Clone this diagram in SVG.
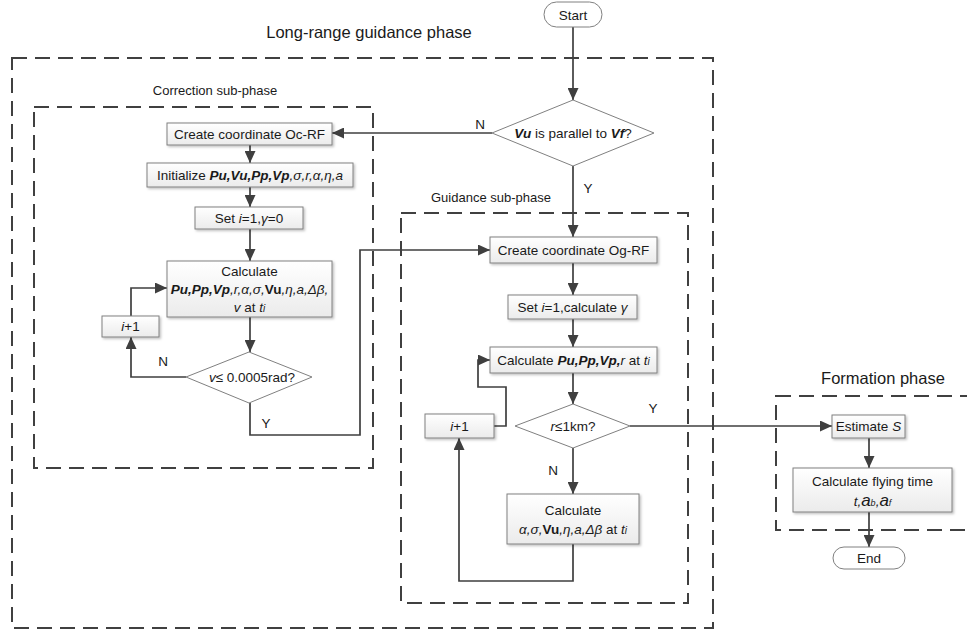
<svg xmlns="http://www.w3.org/2000/svg" width="967" height="633" viewBox="0 0 967 633">
<defs>
<linearGradient id="bg" x1="0" y1="0" x2="0" y2="1"><stop offset="0" stop-color="#ffffff"/><stop offset="1" stop-color="#ebebeb"/></linearGradient>
<filter id="sh" x="-10%" y="-10%" width="130%" height="140%"><feDropShadow dx="1.5" dy="1.5" stdDeviation="0.8" flood-color="#000" flood-opacity="0.25"/></filter>
<marker id="ah" viewBox="0 0 12 11" refX="12" refY="5.5" markerWidth="12" markerHeight="11" markerUnits="userSpaceOnUse" orient="auto"><path d="M0,0 L12,5.5 L0,11 z" fill="#3f3f3f"/></marker>
</defs>
<style>
text{font-family:"Liberation Sans",Arial,sans-serif;fill:#1a1a1a;}
.t{font-size:13.5px;text-anchor:middle;}
.lbl{font-size:13.5px;text-anchor:middle;}
.ph{font-size:16.5px;text-anchor:middle;}
.sp{font-size:13px;text-anchor:middle;}
.box{fill:url(#bg);stroke:#808080;stroke-width:1;filter:url(#sh);}
.dia{fill:#ffffff;stroke:#808080;stroke-width:1;}
.pill{fill:#ffffff;stroke:#808080;stroke-width:1;}
.dash{fill:none;stroke:#404040;stroke-width:2;stroke-dasharray:15 8;}
.c{fill:none;stroke:#3f3f3f;stroke-width:1.7;}
.bi{font-weight:bold;font-style:italic;}
.b{font-weight:bold;}
.i{font-style:italic;}
</style>

<g id="frames">
<rect class="dash" x="12" y="58" width="701" height="570"/>
<rect class="dash" x="34" y="107" width="339" height="361"/>
<rect class="dash" x="401" y="213" width="287" height="390"/>
<rect class="dash" x="776" y="396" width="200" height="134"/>
<text class="ph" x="369" y="38">Long-range guidance phase</text>
<text class="sp" x="215" y="95">Correction sub-phase</text>
<text class="sp" x="491" y="202">Guidance sub-phase</text>
<text class="ph" x="883" y="384">Formation phase</text>
</g>

<g id="connectors">
<path class="c" d="M573,27 V100" marker-end="url(#ah)"/>
<path class="c" d="M492,133 H332" marker-end="url(#ah)"/>
<path class="c" d="M250,145 V163" marker-end="url(#ah)"/>
<path class="c" d="M250,187 V207" marker-end="url(#ah)"/>
<path class="c" d="M250,229 V261" marker-end="url(#ah)"/>
<path class="c" d="M250,317 V352" marker-end="url(#ah)"/>
<path class="c" d="M186,377 H131 V337" marker-end="url(#ah)"/>
<path class="c" d="M131,316 V288 H167" marker-end="url(#ah)"/>
<path class="c" d="M250,403 V435 H360 V250 H490" marker-end="url(#ah)"/>
<path class="c" d="M573,166 V237" marker-end="url(#ah)"/>
<path class="c" d="M573,263 V295" marker-end="url(#ah)"/>
<path class="c" d="M573,319 V347" marker-end="url(#ah)"/>
<path class="c" d="M573,373 V404" marker-end="url(#ah)"/>
<path class="c" d="M573,448 V494" marker-end="url(#ah)"/>
<path class="c" d="M573,544 V581 H459 V438" marker-end="url(#ah)"/>
<path class="c" d="M494,426 H506 V387 H478 V360 H490" marker-end="url(#ah)"/>
<path class="c" d="M630,426 H832" marker-end="url(#ah)"/>
<path class="c" d="M869,438 V468" marker-end="url(#ah)"/>
<path class="c" d="M869,512 V547" marker-end="url(#ah)"/>
<text class="lbl" x="480" y="129">N</text>
<text class="lbl" x="163" y="366">N</text>
<text class="lbl" x="266" y="428">Y</text>
<text class="lbl" x="588" y="193">Y</text>
<text class="lbl" x="653" y="413">Y</text>
<text class="lbl" x="553" y="475">N</text>
</g>

<g id="start">
<rect class="pill" x="544" y="2" width="58" height="25" rx="12.5"/>
<text class="t" x="573" y="19.5">Start</text>
</g>

<g id="parallel">
<polygon class="dia" points="573,100 654,133 573,166 492,133"/>
<text class="t" x="573" y="138"><tspan class="bi">Vu</tspan> is parallel to <tspan class="bi">Vf</tspan>?</text>
</g>

<g id="create-oc">
<rect class="box" x="167" y="123" width="165" height="22"/>
<text class="t" x="249.5" y="139">Create coordinate Oc-RF</text>
</g>

<g id="initialize">
<rect class="box" x="147" y="163" width="206" height="24"/>
<text class="t" x="250" y="180">Initialize <tspan class="bi">Pu,Vu,Pp,Vp</tspan><tspan class="i">,σ,r,α,η,a</tspan></text>
</g>

<g id="set-c">
<rect class="box" x="195" y="207" width="108" height="22"/>
<text class="t" x="249" y="223">Set <tspan class="i">i</tspan>=1,<tspan class="i">γ</tspan>=0</text>
</g>

<g id="calc-c">
<rect class="box" x="167" y="261" width="165" height="56"/>
<text class="t" x="249.5" y="276">Calculate</text>
<text class="t" x="249.5" y="294"><tspan class="bi">Pu,Pp,Vp</tspan><tspan class="i">,r,α,σ,</tspan><tspan class="b">Vu</tspan><tspan class="i">,η,a,Δβ,</tspan></text>
<text class="t" x="249.5" y="312"><tspan class="i">v</tspan> at <tspan class="i">t</tspan><tspan class="i" font-size="10">i</tspan></text>
</g>

<g id="check-v">
<polygon class="dia" points="249,352 312,377 249,403 186,377"/>
<text class="t" x="252" y="382"><tspan class="i">v</tspan>≤ 0.0005rad?</text>
</g>

<g id="inc-c">
<rect class="box" x="102" y="316" width="57" height="21"/>
<text class="t" x="130.5" y="331"><tspan class="i">i</tspan>+1</text>
</g>

<g id="create-og">
<rect class="box" x="490" y="237" width="167" height="26"/>
<text class="t" x="573.5" y="255">Create coordinate Og-RF</text>
</g>

<g id="set-g">
<rect class="box" x="508" y="295" width="129" height="24"/>
<text class="t" x="572.5" y="312">Set <tspan class="i">i</tspan>=1,calculate <tspan class="i">γ</tspan></text>
</g>

<g id="calc-g">
<rect class="box" x="490" y="347" width="167" height="26"/>
<text class="t" x="573.5" y="365">Calculate <tspan class="bi">Pu,Pp,Vp,</tspan><tspan class="i">r</tspan> at <tspan class="i">t</tspan><tspan class="i" font-size="10">i</tspan></text>
</g>

<g id="check-r">
<polygon class="dia" points="573,404 630,426 573,448 515,426"/>
<text class="t" x="573" y="431"><tspan class="i">r</tspan>≤1km?</text>
</g>

<g id="inc-g">
<rect class="box" x="425" y="414" width="69" height="24"/>
<text class="t" x="459.5" y="431"><tspan class="i">i</tspan>+1</text>
</g>

<g id="calc-g2">
<rect class="box" x="507" y="494" width="132" height="50"/>
<text class="t" x="573" y="515">Calculate</text>
<text class="t" x="573" y="534"><tspan class="i">α,σ,</tspan><tspan class="b">Vu</tspan><tspan class="i">,η,a,Δβ</tspan> at <tspan class="i">t</tspan><tspan class="i" font-size="10">i</tspan></text>
</g>

<g id="estimate">
<rect class="box" x="832" y="415" width="73" height="23"/>
<text class="t" x="868.5" y="431">Estimate <tspan class="i">S</tspan></text>
</g>

<g id="flying">
<rect class="box" x="793" y="468" width="159" height="44"/>
<text class="t" x="872.5" y="486">Calculate flying time</text>
<text class="t" x="872.5" y="506"><tspan class="i">t,</tspan><tspan class="i" font-size="17">a</tspan><tspan class="i" font-size="9">b</tspan><tspan class="i">,</tspan><tspan class="i" font-size="17">a</tspan><tspan class="i" font-size="9">f</tspan></text>
</g>

<g id="end">
<rect class="pill" x="833" y="547" width="72" height="22" rx="11"/>
<text class="t" x="869" y="563">End</text>
</g>
</svg>
